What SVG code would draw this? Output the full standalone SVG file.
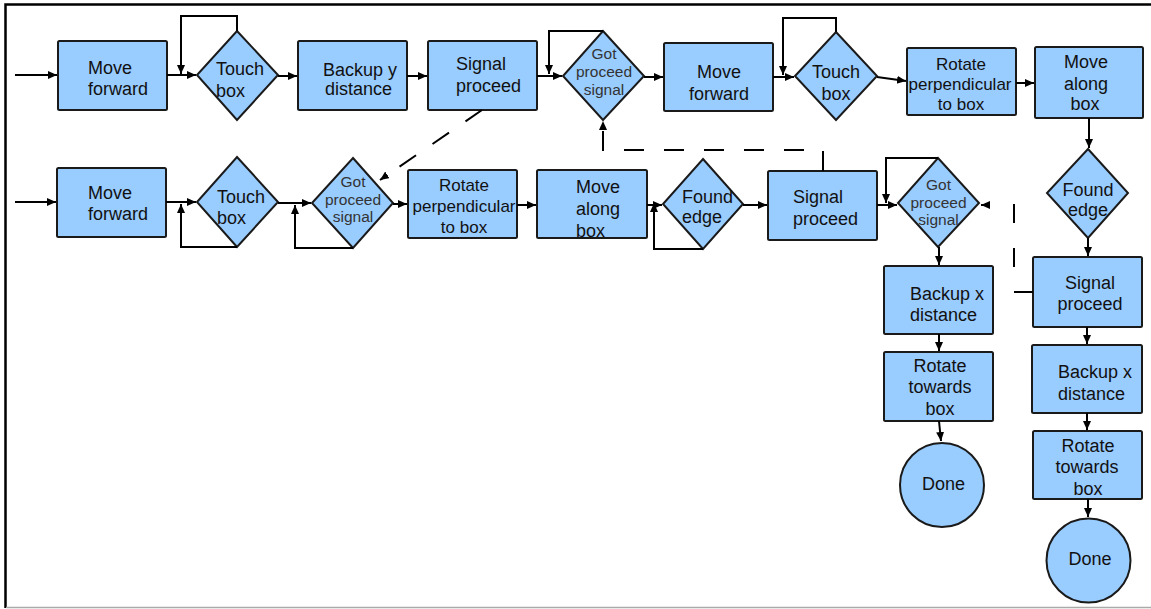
<svg xmlns="http://www.w3.org/2000/svg" width="1151" height="609" viewBox="0 0 1151 609">
<style>
.s{fill:#99ccff;stroke:#1a1a1a;stroke-width:2}
text{font-family:"Liberation Sans",Arial,sans-serif;font-size:18px;fill:#111}
.m{text-anchor:middle}
.g{font-size:15.5px;fill:#333}
.r{font-size:17px}
.c{stroke:#000;stroke-width:2;fill:none}
.d1{stroke-dasharray:20,20}
.d2{stroke-dasharray:19,25}
</style>
<defs>
<marker id="a" markerWidth="10" markerHeight="10" refX="9" refY="4" orient="auto" markerUnits="userSpaceOnUse"><path d="M0,0 L9,4 L0,8 z" fill="#000"/></marker>
</defs>
<rect width="1151" height="609" fill="#fff"/>
<g id="frame">
<path d="M5.5,608 V4.5 H1151" fill="none" stroke="#000" stroke-width="2.5"/>
<path d="M6,607.5 H1151" stroke="#aaa" stroke-width="1.5"/>
</g>
<g id="n1"><rect class="s" x="58" y="41" width="109" height="69" rx="1.5"/><text x="88" y="74">Move</text><text x="88" y="95">forward</text></g>
<g id="n2"><polygon class="s" points="237,31 278,75 237,120 197,75"/><text x="216" y="75">Touch</text><text x="216" y="97">box</text></g>
<g id="n3"><rect class="s" x="298" y="41" width="109" height="69" rx="1.5"/><text x="323" y="76">Backup y</text><text x="325" y="95">distance</text></g>
<g id="n4"><rect class="s" x="428" y="41" width="109" height="69" rx="1.5"/><text x="456" y="70">Signal</text><text x="456" y="92">proceed</text></g>
<g id="n5"><polygon class="s" points="603,31 644,76 603,120 563,76"/><text class="m g" x="604" y="59">Got</text><text class="m g" x="604" y="77">proceed</text><text class="m g" x="604" y="95">signal</text></g>
<g id="n6"><rect class="s" x="664" y="43" width="109" height="68" rx="1.5"/><text class="m" x="719" y="78">Move</text><text class="m" x="719" y="100">forward</text></g>
<g id="n7"><polygon class="s" points="836,32 877,76 836,120 795,76"/><text class="m" x="836" y="78">Touch</text><text class="m" x="836" y="100">box</text></g>
<g id="n8"><rect class="s" x="907" y="48" width="109" height="67" rx="1.5"/><text class="m r" x="961" y="70">Rotate</text><text class="m r" x="960" y="90">perpendicular</text><text class="m r" x="961" y="110">to box</text></g>
<g id="n9"><rect class="s" x="1035" y="47" width="108" height="71" rx="1.5"/><text class="m" x="1086" y="68">Move</text><text class="m" x="1086" y="90">along</text><text class="m" x="1085" y="110">box</text></g>
<g id="n10"><polygon class="s" points="1088,149 1128,193 1088,238 1047,193"/><text class="m" x="1088" y="196">Found</text><text class="m" x="1088" y="216">edge</text></g>
<g id="n11"><rect class="s" x="1033" y="257" width="109" height="70" rx="1.5"/><text class="m" x="1090" y="289">Signal</text><text class="m" x="1090" y="310">proceed</text></g>
<g id="n12"><rect class="s" x="1032" y="345" width="110" height="68" rx="1.5"/><text x="1058" y="378">Backup x</text><text x="1058" y="400">distance</text></g>
<g id="n13"><rect class="s" x="1033" y="431" width="109" height="68" rx="1.5"/><text class="m" x="1088" y="452">Rotate</text><text class="m" x="1087" y="473">towards</text><text class="m" x="1088" y="495">box</text></g>
<g id="n14"><circle class="s" cx="1088.5" cy="560.5" r="42"/><text class="m" x="1090" y="565">Done</text></g>
<g id="n15"><rect class="s" x="57" y="168" width="109" height="69" rx="1.5"/><text x="88" y="199">Move</text><text x="88" y="220">forward</text></g>
<g id="n16"><polygon class="s" points="237,157 278,202 237,247 197,202"/><text x="217" y="203">Touch</text><text x="217" y="224">box</text></g>
<g id="n17"><polygon class="s" points="353,158 393,203 353,248 312,203"/><text class="m g" x="353" y="187">Got</text><text class="m g" x="353" y="205">proceed</text><text class="m g" x="353" y="222">signal</text></g>
<g id="n18"><rect class="s" x="408" y="170" width="109" height="68" rx="1.5"/><text class="m r" x="464" y="191">Rotate</text><text class="m r" x="464" y="212">perpendicular</text><text class="m r" x="464" y="233">to box</text></g>
<g id="n19"><rect class="s" x="537" y="170" width="110" height="68" rx="1.5"/><text x="576" y="193">Move</text><text x="576" y="215">along</text><text x="576" y="237">box</text></g>
<g id="n20"><polygon class="s" points="703,159 743,204 703,249 663,204"/><text x="682" y="203">Found</text><text x="682" y="223">edge</text></g>
<g id="n21"><rect class="s" x="768" y="171" width="109" height="69" rx="1.5"/><text x="793" y="203">Signal</text><text x="793" y="225">proceed</text></g>
<g id="n22"><polygon class="s" points="938,158 979,203 938,247 898,203"/><text class="m g" x="938.5" y="190">Got</text><text class="m g" x="938.5" y="208">proceed</text><text class="m g" x="938.5" y="225">signal</text></g>
<g id="n23"><rect class="s" x="884" y="266" width="109" height="68" rx="1.5"/><text x="910" y="300">Backup x</text><text x="910" y="321">distance</text></g>
<g id="n24"><rect class="s" x="884" y="352" width="109" height="69" rx="1.5"/><text class="m" x="940" y="372">Rotate</text><text class="m" x="940" y="393">towards</text><text class="m" x="940" y="415">box</text></g>
<g id="n25"><circle class="s" cx="942" cy="485" r="42"/><text class="m" x="943.5" y="490">Done</text></g>
<g id="connectors" class="c" marker-end="url(#a)">
<path class="c" marker-end="url(#a)" d="M15,75 H57"/>
<path class="c" marker-end="url(#a)" d="M167,75 H196"/>
<path class="c" marker-end="url(#a)" d="M237,31 V16 H181 V74"/>
<path class="c" marker-end="url(#a)" d="M278,76 H297"/>
<path class="c" marker-end="url(#a)" d="M407,76 H427"/>
<path class="c" marker-end="url(#a)" d="M537,76 H562"/>
<path class="c" marker-end="url(#a)" d="M603,31 H549 V74"/>
<path class="c" marker-end="url(#a)" d="M644,77 H663"/>
<path class="c" marker-end="url(#a)" d="M773,77 H794"/>
<path class="c" marker-end="url(#a)" d="M836,32 V18 H783 V75"/>
<path class="c" marker-end="url(#a)" d="M877,77 L906,81"/>
<path class="c" marker-end="url(#a)" d="M1016,83 H1034"/>
<path class="c" marker-end="url(#a)" d="M1089,118 V148"/>
<path class="c" marker-end="url(#a)" d="M1088,238 V256"/>
<path class="c" marker-end="url(#a)" d="M1087,327 V344"/>
<path class="c" marker-end="url(#a)" d="M1087,413 V430"/>
<path class="c" marker-end="url(#a)" d="M1088,499 V517"/>
<path class="c" marker-end="url(#a)" d="M15,202 H56"/>
<path class="c" marker-end="url(#a)" d="M166,202 H196"/>
<path class="c" marker-end="url(#a)" d="M237,247 H181 V204"/>
<path class="c" marker-end="url(#a)" d="M278,203 H311"/>
<path class="c" marker-end="url(#a)" d="M353,248 H295 V205"/>
<path class="c" marker-end="url(#a)" d="M393,204 H407"/>
<path class="c" marker-end="url(#a)" d="M517,205 H536"/>
<path class="c" marker-end="url(#a)" d="M647,205 H662"/>
<path class="c" marker-end="url(#a)" d="M703,249 H654 V203"/>
<path class="c" marker-end="url(#a)" d="M743,205 H767"/>
<path class="c" marker-end="url(#a)" d="M877,205 H897"/>
<path class="c" marker-end="url(#a)" d="M938,158 H886 V203"/>
<path class="c" marker-end="url(#a)" d="M939,247 V265"/>
<path class="c" marker-end="url(#a)" d="M939,334 V351"/>
<path class="c" marker-end="url(#a)" d="M939,421 L941,441"/>
<path class="c d1" marker-end="url(#a)" d="M482,110 L380,180"/>
<path class="c d1" marker-end="url(#a)" d="M823,171 V150 H603 V121"/>
<path class="c d2" marker-end="url(#a)" d="M1033,292 H1014 V205 H981"/>
</g>
</svg>
